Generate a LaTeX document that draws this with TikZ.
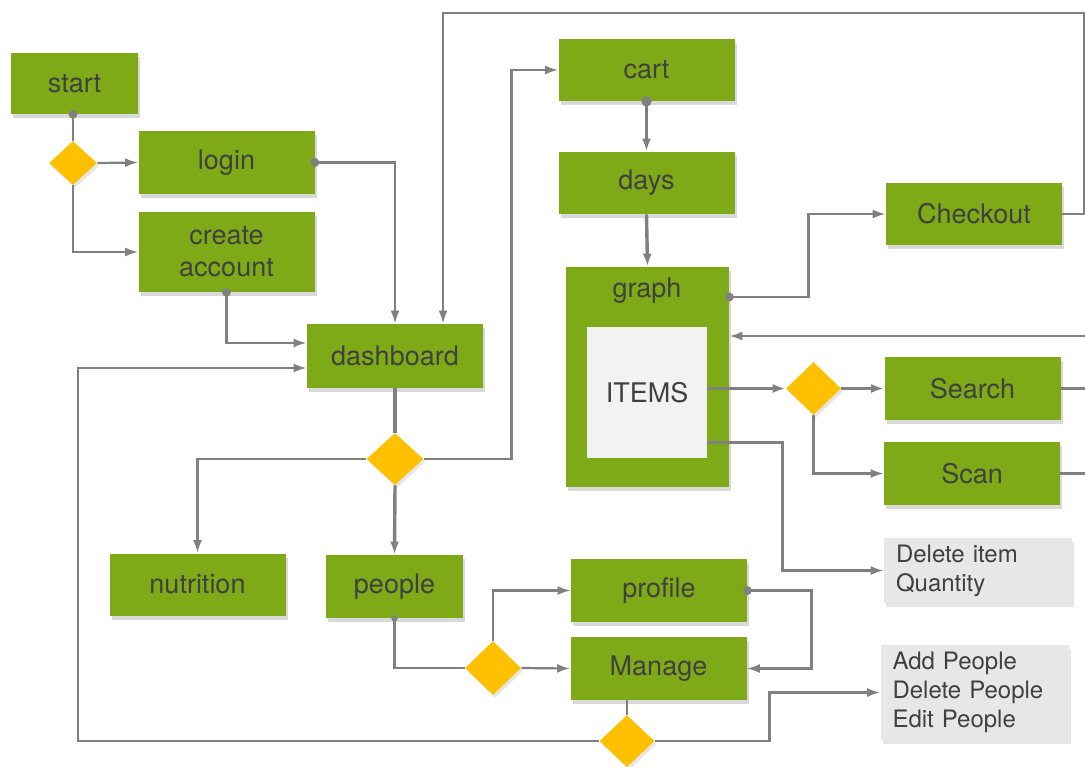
\documentclass[tikz,border=0pt]{standalone}
\usepackage{fontspec}
\setmainfont{TeX Gyre Heros}
\usetikzlibrary{shapes.geometric,shadows,arrows.meta}
\definecolor{boxgreen}{RGB}{127,170,24}
\definecolor{choiceyellow}{RGB}{255,192,0}
\definecolor{linegray}{RGB}{128,128,128}
\definecolor{textgray}{RGB}{64,64,64}
\definecolor{notegray}{RGB}{231,231,231}
\definecolor{itemsgray}{RGB}{242,242,242}
\newcommand{\boxfont}{\fontsize{13.5}{16}\selectfont}
\newcommand{\notefont}{\fontsize{12}{14.5}\selectfont}

\begin{document}
\begin{tikzpicture}[
    x=0.5pt, y=-0.5pt,
    box/.style    = {rectangle, fill=boxgreen, text=textgray, align=center,
                     minimum width=88pt, minimum height=31.5pt, inner sep=2pt,
                     font=\boxfont,
                     drop shadow={shadow xshift=1pt, shadow yshift=-2pt, opacity=0.3}},
    choice/.style = {diamond, fill=choiceyellow, inner sep=0pt,
                     minimum width=28pt, minimum height=26pt,
                     drop shadow={shadow xshift=1pt, shadow yshift=-1.5pt, opacity=0.2}},
    items/.style  = {rectangle, fill=itemsgray, text=textgray, font=\boxfont,
                     minimum width=60pt, minimum height=65.5pt},
    note/.style   = {rectangle, fill=notegray, text=textgray, font=\notefont,
                     align=left, text width=82pt, inner xsep=6pt,
                     minimum height=32.5pt,
                     drop shadow={shadow xshift=1pt, shadow yshift=-2pt, opacity=0.2}},
    plain/.style  = {draw=linegray, line width=1.1pt},
    link/.style   = {plain, -{Latex[length=6.5pt,width=4.5pt]}},
    heavy/.style  = {link, line width=1.7pt},
]
\useasboundingbox (0,0) rectangle (1085,766);

% left column
\node [box, minimum width=63.5pt, minimum height=30.5pt] (start) at (74.5,83.5) {start};
\node [choice, minimum width=24pt, minimum height=22pt] (d1) at (73,163) {};
\node [box] (login) at (226.5,162.5) {login};
\node [box, minimum height=40pt] (acct) at (226.5,252) {create\\account};
\node [box, minimum height=32pt] (dash) at (395,356) {dashboard};
\node [choice, minimum width=28.5pt] (d2) at (395,459) {};
\node [box, minimum height=31pt] (nutri) at (197.5,584.5) {nutrition};
\node [box, minimum width=68.5pt] (people) at (394.5,586.5) {people};

% cart column
\node [box, minimum height=31pt] (cart) at (646.5,70) {cart};
\node [box, minimum height=31pt] (days) at (646.5,183) {days};
\node [box, minimum width=81.5pt, minimum height=110pt] (graph) at (647.5,377) {};
\node [text=textgray, font=\boxfont] (graphlbl) at (647,291) {graph};
\node [items] (items) at (647,392.5) {ITEMS};

% right column
\node [box, minimum height=31pt] (check) at (974,214) {Checkout};
\node [choice, minimum width=27.5pt, minimum height=26.5pt] (d3) at (813.5,388.5) {};
\node [box] (search) at (972.5,388.5) {Search};
\node [box] (scan) at (972,473.5) {Scan};
\node [note] (delitem) at (978,570.5) {Delete item\\Quantity};

% people part
\node [box] (profile) at (659,590.5) {profile};
\node [choice, minimum height=27pt] (d4) at (493,668) {};
\node [box] (manage) at (658.5,668.5) {Manage};
\node [choice, minimum width=27.5pt] (d5) at (627,741) {};
\node [note, minimum height=47.5pt] (peopleops) at (974.5,692.5) {Add People\\Delete People\\Edit People};

\coordinate (loopcorner) at (1084,13);
\coordinate (rin) at (1085,336);

% connectors
\draw [plain] (d1.north |- start.south) -- (d1.north);
\draw [link] (d1.east) -- (login.west);
\draw [link] (d1.south) |- (acct.west);
\draw [link] (login.east) -| (dash.north);
\draw [link] (acct.south) |- ([yshift=6.5pt]dash.west);
\draw [link] (check.east) -| (loopcorner) -| ([xshift=24pt]dash.north);
\draw [heavy, -] (dash.south) -- (d2.north);
\draw [heavy] (d2.south) -- (people.north);
\draw [link] (d2.west) -| (nutri.north);
\draw [link] (d2.east) -- ++(87.5,0) |- (cart.west);
\draw [heavy] (cart.south) -- (days.north);
\draw [heavy] (days.south) -- (graph.north);
\draw [link] ([yshift=40pt]graph.east) -- ++(79,0) |- (check.west);
\draw [link] (rin) -- (rin -| graph.east);
\draw [heavy] (items.east |- d3.west) -- (d3.west);
\draw [heavy] (d3.east) -- (search.west);
\draw [link] (d3.south) |- (scan.west);
\draw [plain] (search.east) -- (search.east -| rin);
\draw [plain] (scan.east) -- (scan.east -| rin);
\draw [link] ([yshift=-25pt]items.east) -- ++(75,0) |- (delitem.west);
\draw [plain] (people.south) |- (d4.west);
\draw [link] (d4.east) -- (manage.west);
\draw [link] (d4.north) |- (profile.west);
\draw [link] (profile.east) -- ++(64,0) |- (manage.east);
\draw [plain] (d5.north |- manage.south) -- (d5.north);
\draw [link] (d5.west) -- ++(-521.5,0) |- ([yshift=-6pt]dash.west);
\draw [link] (d5.east) -- ++(114.5,0) |- (peopleops.west);

% dots
\fill [linegray] (d1.north |- start.south) circle (2.2pt);
\fill [linegray] (login.east) circle (2.2pt);
\fill [linegray] (acct.south) circle (2.2pt);
\fill [linegray] (cart.south) circle (2.6pt);
\fill [linegray] ([yshift=40pt]graph.east) circle (2.2pt);
\fill [linegray] (profile.east) circle (2.2pt);
\fill [linegray] (people.south) circle (1.6pt);
\end{tikzpicture}
\end{document}
